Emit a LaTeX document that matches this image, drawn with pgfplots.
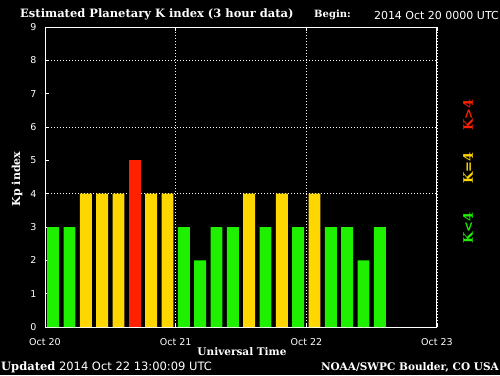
\documentclass[border=0pt]{standalone}
\usepackage{pgfplots}
\pgfplotsset{compat=1.18}
\usepackage{fontspec}
\setmainfont{DejaVu Sans}
\newfontfamily\bserif{DejaVu Serif}
\definecolor{kgreen}{RGB}{30,240,0}
\definecolor{kyellow}{RGB}{255,215,0}
\definecolor{kred}{RGB}{255,32,0}
\begin{document}
\begin{tikzpicture}[x=1pt,y=1pt]
\fill[black] (0,0) rectangle (500,375);
\begin{axis}[at={(45pt,48pt)}, anchor=south west, scale only axis,
  width=392pt, height=300pt,
  xmin=0, xmax=72, ymin=0, ymax=9,
  axis line style={white, line width=1pt},
  xtick={0,24,48,72}, xticklabels={Oct 20,Oct 21,Oct 22,Oct 23},
  ytick={0,...,9}, ytick pos=left,
  tick align=inside, major tick length=4pt,
  tick style={white, line width=0.8pt},
  tick label style={white, font=\fontsize{9.5}{10}\selectfont},
  /pgf/number format/assume math mode=true,
  xticklabel style={yshift=-8pt},
  yticklabel style={xshift=-5pt},
  xmajorgrids,
  grid style={white, line width=0.8pt, dash pattern=on 1pt off 2pt},
  extra y ticks={4,6,8}, extra y tick labels={},
  extra y tick style={grid=major, major tick length=0pt},
]
\addplot[ybar, bar width=2.2, bar shift=0pt, fill=kgreen, draw=none] coordinates {
 (1.5,3) (4.5,3) (25.5,3) (28.5,2) (31.5,3) (34.5,3) (40.5,3) (46.5,3) (52.5,3) (55.5,3) (58.5,2) (61.5,3)};
\addplot[ybar, bar width=2.2, bar shift=0pt, fill=kyellow, draw=none] coordinates {
 (7.5,4) (10.5,4) (13.5,4) (19.5,4) (22.5,4) (37.5,4) (43.5,4) (49.5,4)};
\addplot[ybar, bar width=2.2, bar shift=0pt, fill=kred, draw=none] coordinates {
 (16.5,5)};
\end{axis}
\node[white, anchor=west, font=\bserif\bfseries\fontsize{11.5}{12}\selectfont, inner sep=1pt] at (19,361) {Estimated Planetary K index (3 hour data)};
\node[white, anchor=west, font=\bserif\bfseries\fontsize{10}{11}\selectfont, inner sep=1pt] at (313,360) {Begin:};
\node[white, anchor=east, font=\fontsize{11}{12}\selectfont, inner sep=1pt] at (500,360) {2014 Oct 20 0000 UTC};
\node[white, anchor=west, font=\fontsize{11.5}{12}\selectfont, inner sep=1pt] at (0,8) {{\bserif\bfseries Updated} 2014 Oct 22 13:00:09 UTC};
\node[white, anchor=east, font=\bserif\bfseries\fontsize{10.5}{11}\selectfont, inner sep=1pt] at (500,8) {NOAA/SWPC Boulder, CO USA};
\node[white, font=\bserif\bfseries\fontsize{10.5}{11}\selectfont] at (242,23) {Universal Time};
\node[white, rotate=90, font=\bserif\bfseries\fontsize{11}{12}\selectfont] at (17,196) {Kp index};
\node[kred, rotate=90, font=\bserif\bfseries\fontsize{13}{14}\selectfont] at (468,260) {K>4};
\node[kyellow, rotate=90, font=\bserif\bfseries\fontsize{13}{14}\selectfont] at (468,207) {K=4};
\node[kgreen, rotate=90, font=\bserif\bfseries\fontsize{13}{14}\selectfont] at (468,147) {K<4};
\pgfresetboundingbox
\path[use as bounding box] (0,0) rectangle (500,375);
\end{tikzpicture}
\end{document}
